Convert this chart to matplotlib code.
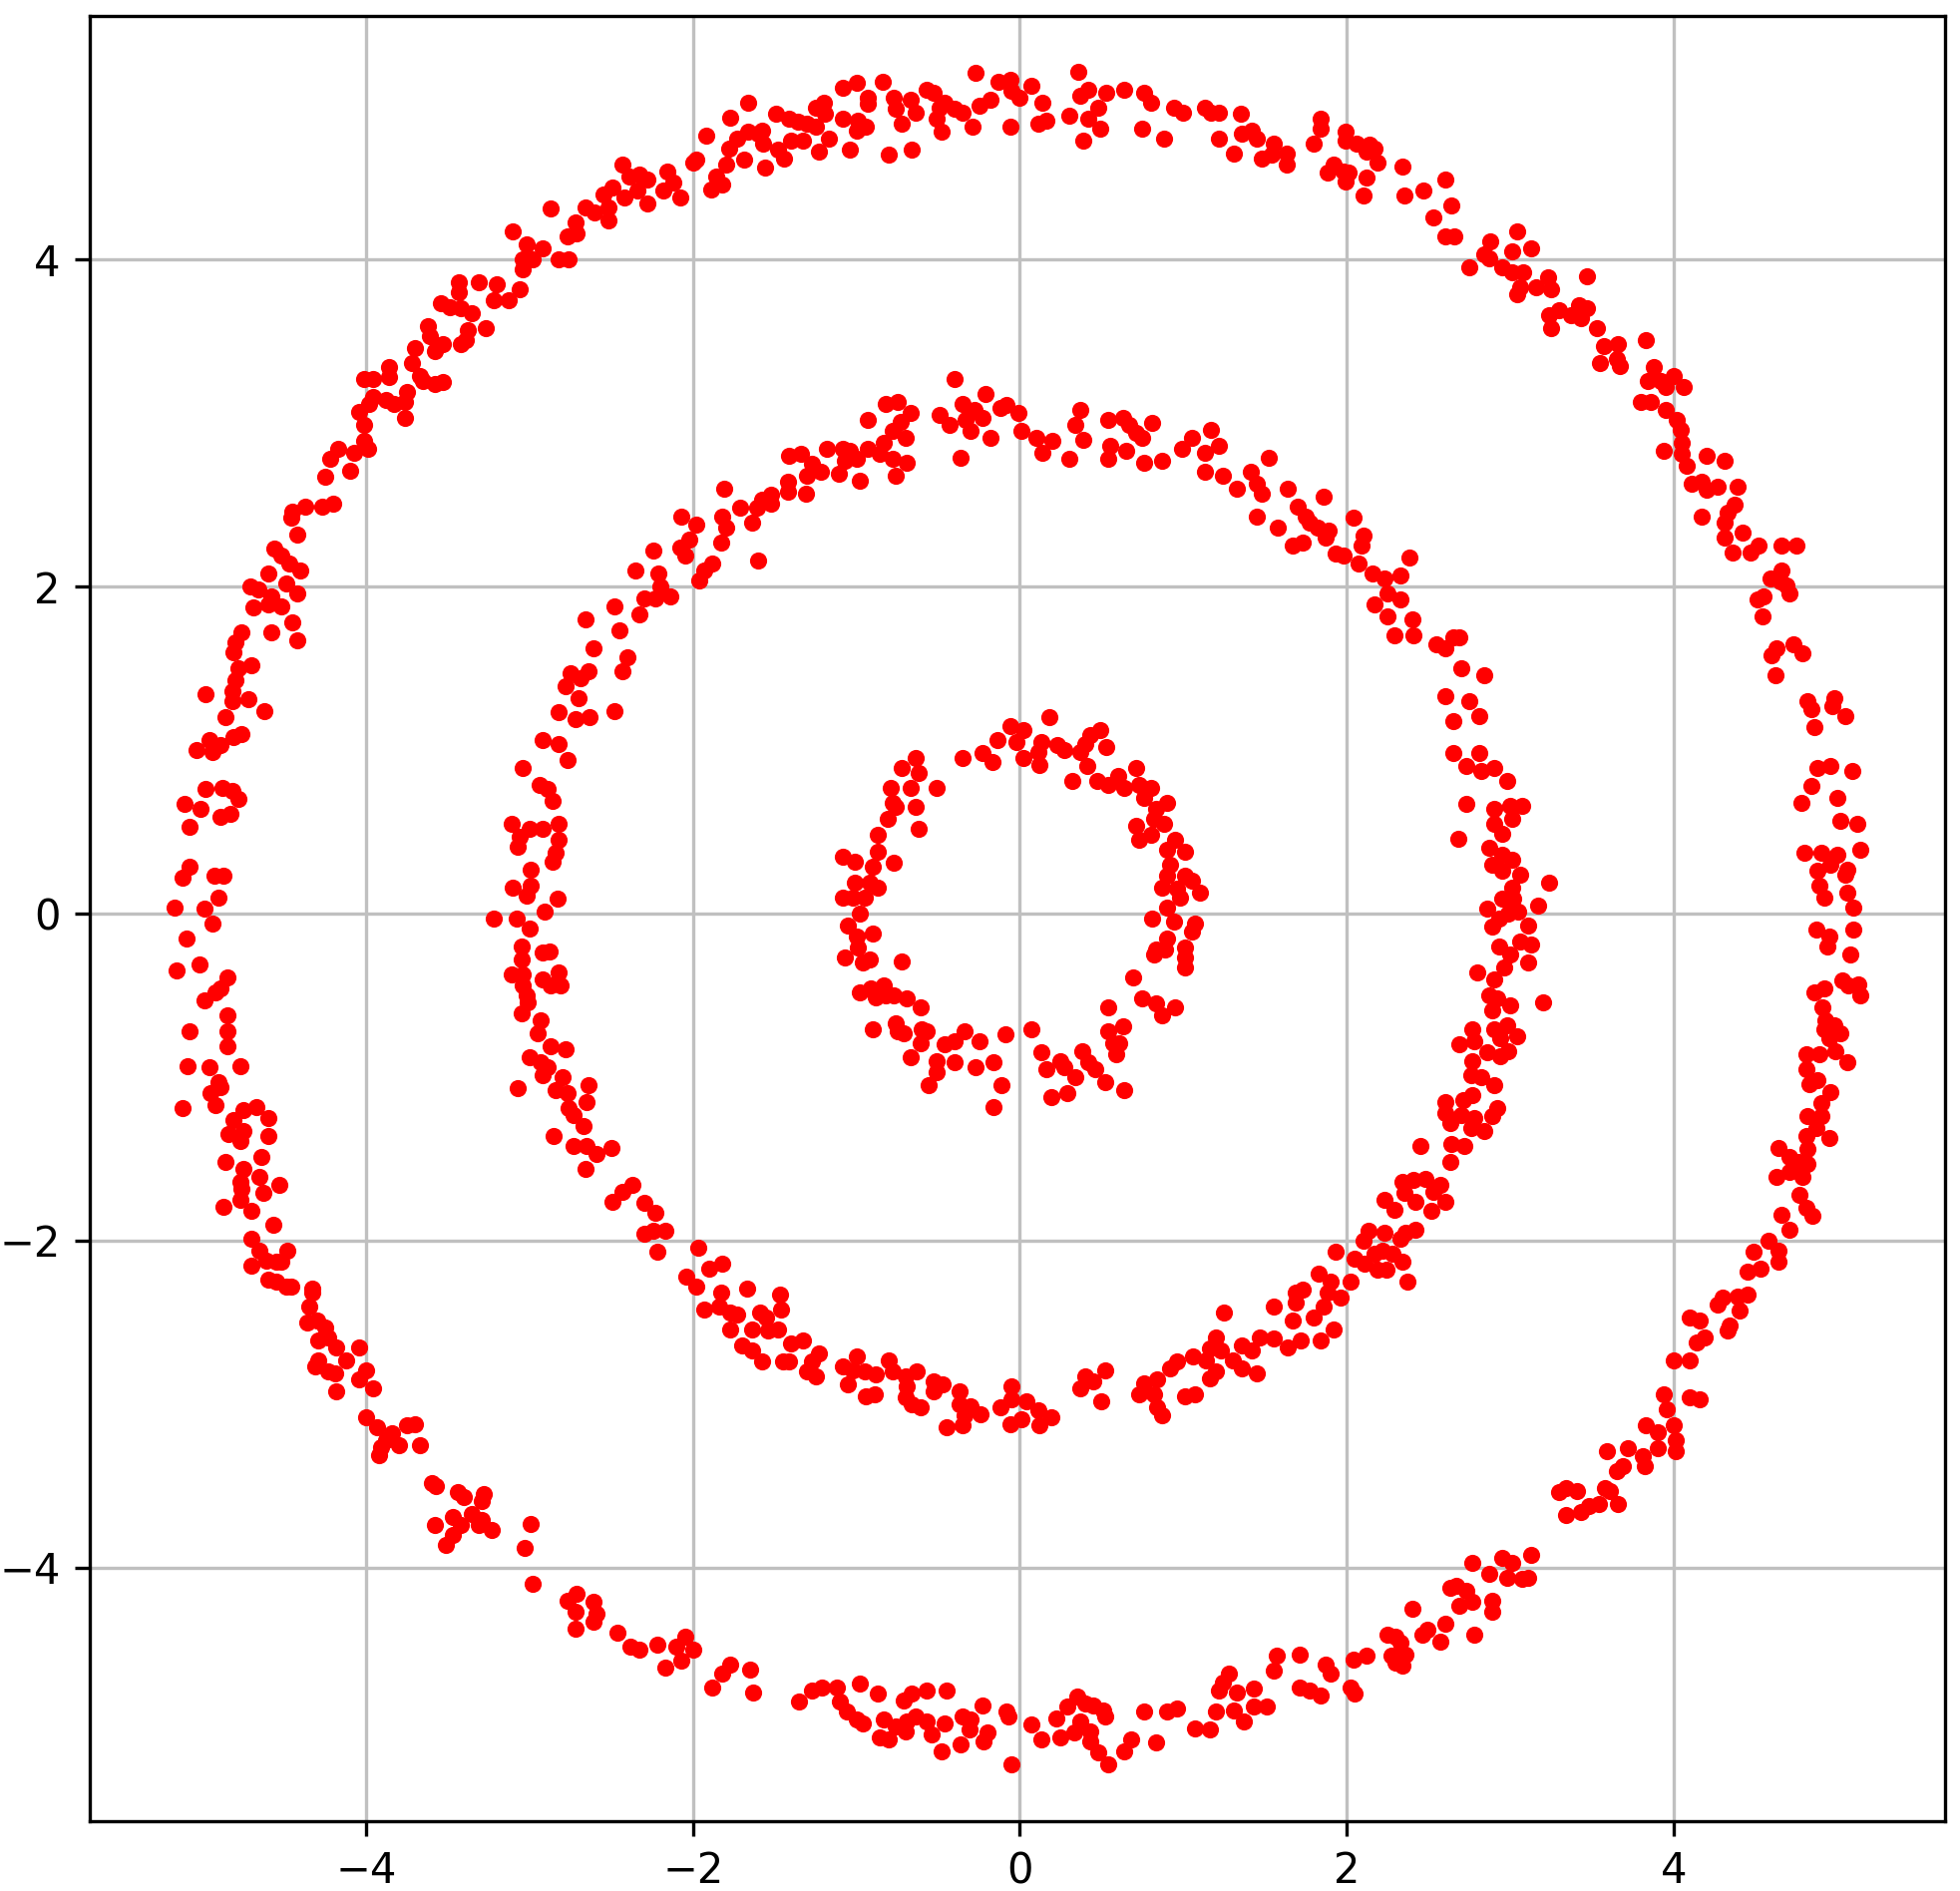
import numpy as np
import matplotlib.pyplot as plt

# three noisy rings, point positions
outer = [
    # upper left
    (-1.77, 4.87), (-1.92, 4.76), (-1.78, 4.68), (-1.80, 4.58), (-1.86, 4.51), (-1.89, 4.43), (-1.82, 4.46),
    (-2.00, 4.59), (-1.98, 4.61), (-2.16, 4.54), (-2.12, 4.47), (-2.18, 4.42), (-2.08, 4.38), (-2.43, 4.58),
    (-2.39, 4.51), (-2.33, 4.52), (-2.28, 4.49), (-2.34, 4.42), (-2.42, 4.38), (-2.28, 4.34), (-2.49, 4.44),
    (-2.55, 4.40), (-2.52, 4.32), (-2.52, 4.24), (-2.66, 4.32), (-2.60, 4.29), (-2.87, 4.31), (-2.72, 4.23),
    (-2.71, 4.16), (-2.77, 4.14), (-3.10, 4.17), (-3.02, 4.09), (-2.92, 4.07), (-2.98, 4.00), (-3.04, 4.00),
    (-3.04, 3.94), (-2.82, 4.00), (-2.76, 4.00), (-3.06, 3.82), (-3.20, 3.85), (-3.31, 3.86), (-3.43, 3.86),
    (-3.43, 3.80), (-3.22, 3.75), (-3.13, 3.75), (-3.54, 3.73), (-3.49, 3.71), (-3.42, 3.70), (-3.35, 3.67),
    (-3.38, 3.57), (-3.27, 3.58), (-3.62, 3.59), (-3.61, 3.53), (-3.53, 3.48), (-3.42, 3.48), (-3.39, 3.51),
    (-3.58, 3.44), (-3.70, 3.46), (-3.72, 3.37), (-3.67, 3.29), (-3.65, 3.26), (-3.58, 3.24), (-3.53, 3.25),
    (-3.86, 3.34), (-3.86, 3.28), (-4.01, 3.27), (-3.96, 3.27), (-3.96, 3.16), (-3.98, 3.12), (-3.88, 3.14),
    (-3.83, 3.12), (-3.75, 3.19), (-3.76, 3.13), (-4.04, 3.07), (-3.76, 3.03), (-4.01, 2.99), (-4.01, 2.89),
    (-3.99, 2.84), (-4.07, 2.82), (-4.17, 2.84), (-4.22, 2.78), (-4.10, 2.71), (-4.25, 2.67), (-4.45, 2.46),
    (-4.46, 2.42), (-4.37, 2.49), (-4.27, 2.49), (-4.20, 2.51), (-4.42, 2.32), (-4.56, 2.23), (-4.52, 2.19),
    (-4.47, 2.14), (-4.40, 2.10), (-4.60, 2.08), (-4.49, 2.02), (-4.71, 2.00), (-4.66, 1.98), (-4.58, 1.94),
    (-4.42, 1.96), (-4.69, 1.87), (-4.60, 1.89), (-4.52, 1.88), (-4.45, 1.78),
    # top
    (-1.73, 4.74), (-1.69, 4.61), (-1.66, 4.96), (-1.66, 4.78), (-1.60, 4.77), (-1.58, 4.79), (-1.57, 4.71),
    (-1.56, 4.56), (-1.49, 4.89), (-1.48, 4.67), (-1.44, 4.62), (-1.41, 4.86), (-1.40, 4.73), (-1.36, 4.84),
    (-1.33, 4.73), (-1.30, 4.83), (-1.25, 4.93), (-1.25, 4.81), (-1.23, 4.66), (-1.20, 4.96), (-1.19, 4.89),
    (-1.17, 4.74), (-1.08, 5.05), (-1.08, 4.86), (-1.04, 4.67), (-1.00, 5.08), (-0.99, 4.85), (-1.00, 4.79),
    (-0.94, 4.81), (-0.93, 4.99), (-0.93, 4.95), (-0.84, 5.09), (-0.80, 4.64), (-0.77, 4.99), (-0.76, 4.92),
    (-0.72, 4.83), (-0.67, 4.98), (-0.66, 4.67), (-0.64, 4.90), (-0.57, 5.04), (-0.53, 5.02), (-0.51, 4.86),
    (-0.49, 4.93), (-0.48, 4.78), (-0.46, 4.96), (-0.40, 4.92), (-0.35, 4.90), (-0.29, 4.81), (-0.27, 5.14),
    (-0.25, 4.94), (-0.18, 4.98), (-0.13, 5.09), (-0.06, 5.10), (-0.06, 4.81), (-0.05, 5.03), (0.00, 4.99),
    (0.07, 5.06), (0.14, 4.96), (0.11, 4.83), (0.16, 4.85), (0.30, 4.88), (0.36, 5.15), (0.37, 5.00),
    (0.42, 5.04), (0.39, 4.73), (0.42, 4.86), (0.48, 4.93), (0.49, 4.80), (0.53, 5.02), (0.64, 5.04),
    (0.75, 4.80), (0.76, 5.02), (0.80, 4.96), (0.88, 4.74), (0.94, 4.93), (1.00, 4.90), (1.13, 4.93),
    (1.17, 4.90), (1.22, 4.90), (1.22, 4.74), (1.31, 4.65), (1.35, 4.89), (1.36, 4.77), (1.42, 4.79),
    (1.45, 4.74), (1.48, 4.62), (1.55, 4.71), (1.54, 4.64), (1.63, 4.65), (1.63, 4.58), (1.80, 4.71),
    (1.84, 4.86), (1.84, 4.80), (1.88, 4.53), (1.92, 4.58),
    # upper right
    (1.99, 4.78), (1.99, 4.73), (2.06, 4.71), (2.12, 4.66), (2.14, 4.70), (2.17, 4.68), (2.19, 4.59),
    (1.98, 4.54), (1.99, 4.48), (2.01, 4.53), (2.12, 4.50), (2.10, 4.39), (2.34, 4.57), (2.35, 4.39),
    (2.47, 4.42), (2.60, 4.49), (2.64, 4.33), (2.53, 4.26), (2.60, 4.14), (2.66, 4.14), (2.88, 4.11),
    (2.84, 4.03), (2.87, 4.01), (2.95, 3.95), (3.01, 4.05), (3.04, 4.17), (3.13, 4.07), (2.75, 3.95),
    (3.01, 3.92), (3.08, 3.92), (3.06, 3.83), (3.04, 3.79), (3.16, 3.83), (3.23, 3.89), (3.25, 3.82),
    (3.47, 3.90), (3.24, 3.66), (3.30, 3.69), (3.25, 3.58), (3.37, 3.66), (3.42, 3.72), (3.47, 3.70),
    (3.43, 3.64), (3.53, 3.58), (3.57, 3.47), (3.66, 3.48), (3.55, 3.37), (3.65, 3.39), (3.67, 3.35),
    (3.83, 3.51), (3.88, 3.34), (3.84, 3.26), (3.92, 3.26), (3.95, 3.22), (4.00, 3.29), (4.06, 3.22),
    (3.80, 3.13), (3.86, 3.13), (3.95, 3.08), (4.02, 3.02), (4.04, 2.96), (4.05, 2.88), (3.94, 2.83),
    (4.05, 2.81), (4.08, 2.74), (4.20, 2.80), (4.31, 2.77), (4.11, 2.63), (4.17, 2.64), (4.20, 2.59),
    (4.27, 2.61), (4.39, 2.61), (4.37, 2.50), (4.33, 2.45), (4.31, 2.39), (4.17, 2.43), (4.31, 2.30),
    (4.42, 2.33), (4.36, 2.21), (4.47, 2.21), (4.52, 2.25), (4.66, 2.25), (4.75, 2.25), (4.59, 2.05),
    (4.66, 2.10), (4.65, 2.03), (4.69, 2.01), (4.71, 1.96), (4.51, 1.92), (4.55, 1.94), (4.54, 1.82),
    # left side
    (-4.76, 1.72), (-4.58, 1.72), (-4.42, 1.67), (-4.80, 1.66), (-4.81, 1.60), (-4.70, 1.52), (-4.78, 1.50),
    (-4.80, 1.43), (-4.82, 1.36), (-4.72, 1.31), (-4.82, 1.30), (-4.98, 1.34), (-4.62, 1.24), (-4.86, 1.20),
    (-4.76, 1.10), (-4.81, 1.08), (-4.96, 1.06), (-4.89, 1.03), (-4.94, 0.99), (-5.04, 1.00), (-4.98, 0.76),
    (-4.88, 0.77), (-4.82, 0.75), (-4.78, 0.70), (-5.11, 0.67), (-5.01, 0.64), (-4.89, 0.59), (-4.83, 0.61),
    (-5.08, 0.53), (-5.08, 0.29), (-5.12, 0.22), (-4.93, 0.23), (-4.87, 0.23), (-4.90, 0.10), (-5.17, 0.04),
    (-4.99, 0.03), (-4.94, -0.06), (-5.10, -0.15), (-5.16, -0.35), (-5.02, -0.31), (-4.85, -0.39),
    (-4.89, -0.46), (-4.92, -0.48), (-4.99, -0.53), (-4.85, -0.62), (-5.08, -0.72), (-4.85, -0.72),
    (-4.85, -0.81), (-5.09, -0.93), (-4.96, -0.94), (-4.77, -0.93), (-4.90, -1.03), (-4.89, -1.06),
    (-4.95, -1.10), (-4.92, -1.17), (-5.12, -1.19), (-4.75, -1.20), (-4.67, -1.18), (-4.60, -1.25),
    (-4.81, -1.26), (-4.84, -1.35), (-4.75, -1.33), (-4.77, -1.39), (-4.60, -1.36), (-4.86, -1.52),
    (-4.75, -1.56), (-4.64, -1.49), (-4.65, -1.61), (-4.77, -1.64), (-4.76, -1.68), (-4.63, -1.71),
    (-4.53, -1.66), (-4.77, -1.75), (-4.87, -1.79), (-4.70, -1.82),
    # right side
    (4.63, 1.62), (4.60, 1.58), (4.73, 1.65), (4.79, 1.59), (4.62, 1.46), (4.82, 1.30), (4.84, 1.25),
    (4.86, 1.14), (4.98, 1.32), (4.97, 1.27), (5.05, 1.21), (4.88, 0.89), (4.96, 0.90), (5.09, 0.87),
    (4.84, 0.78), (4.78, 0.68), (5.00, 0.71), (5.02, 0.57), (5.12, 0.55), (4.80, 0.37), (4.90, 0.37),
    (5.00, 0.36), (4.96, 0.30), (5.14, 0.39), (4.88, 0.26), (5.06, 0.27), (5.05, 0.24), (4.89, 0.17),
    (4.92, 0.10), (5.06, 0.13), (5.10, 0.04), (4.87, -0.10), (4.95, -0.14), (4.94, -0.20), (5.10, -0.10),
    (5.08, -0.25), (5.03, -0.41), (5.13, -0.43), (5.14, -0.50), (5.07, -0.44), (4.86, -0.48), (4.92, -0.46),
    (4.91, -0.57), (4.93, -0.65), (4.98, -0.68), (4.92, -0.71), (5.02, -0.73), (4.95, -0.76), (4.99, -0.84),
    (5.06, -0.91), (4.81, -0.86), (4.89, -0.86), (4.81, -0.95), (4.83, -1.04), (4.88, -1.02), (4.96, -1.09),
    (4.90, -1.16), (4.82, -1.24), (4.90, -1.24), (4.87, -1.31), (4.81, -1.36), (4.95, -1.37), (4.64, -1.43),
    (4.82, -1.44), (4.71, -1.49), (4.76, -1.52), (4.82, -1.53), (4.63, -1.61), (4.71, -1.58), (4.79, -1.61),
    (4.77, -1.72), (4.81, -1.80), (4.66, -1.84), (4.85, -1.85),
    # lower left
    (-4.57, -1.90), (-4.70, -1.99), (-4.65, -2.06), (-4.48, -2.06), (-4.70, -2.15), (-4.61, -2.12),
    (-4.55, -2.13), (-4.52, -2.13), (-4.60, -2.24), (-4.55, -2.25), (-4.49, -2.28), (-4.46, -2.28),
    (-4.33, -2.29), (-4.33, -2.32), (-4.35, -2.40), (-4.36, -2.50), (-4.30, -2.49), (-4.25, -2.53),
    (-4.29, -2.61), (-4.23, -2.59), (-4.18, -2.65), (-4.31, -2.77), (-4.29, -2.73), (-4.23, -2.80),
    (-4.19, -2.81), (-4.12, -2.73), (-4.04, -2.65), (-4.18, -2.92), (-4.04, -2.85), (-4.00, -2.79),
    (-3.96, -2.90), (-4.00, -3.08), (-3.93, -3.14), (-3.84, -3.18), (-3.75, -3.13), (-3.70, -3.12),
    (-3.88, -3.22), (-3.91, -3.26), (-3.92, -3.31), (-3.80, -3.25), (-3.67, -3.25), (-3.60, -3.48),
    (-3.57, -3.50), (-3.44, -3.54), (-3.40, -3.57), (-3.28, -3.55), (-3.29, -3.59), (-3.47, -3.69),
    (-3.35, -3.67), (-3.29, -3.71), (-3.31, -3.74), (-3.23, -3.77), (-3.42, -3.74), (-3.58, -3.74),
    (-3.47, -3.80), (-3.51, -3.86), (-2.99, -3.73), (-3.03, -3.88), (-2.98, -4.10), (-2.77, -4.20),
    (-2.71, -4.16), (-2.72, -4.27), (-2.61, -4.21), (-2.59, -4.28), (-2.61, -4.33), (-2.72, -4.37),
    (-2.46, -4.40), (-2.38, -4.48), (-2.33, -4.50), (-2.22, -4.47), (-2.17, -4.61), (-2.05, -4.42),
    (-2.10, -4.48), (-2.07, -4.57), (-2.00, -4.50), (-1.82, -4.65), (-1.88, -4.73), (-1.77, -4.59),
    # bottom
    (-1.65, -4.62), (-1.63, -4.76), (-1.35, -4.82), (-1.27, -4.75), (-1.21, -4.73), (-1.12, -4.73),
    (-1.10, -4.82), (-1.06, -4.88), (-1.00, -4.93), (-0.96, -4.95), (-0.98, -4.71), (-0.87, -4.77),
    (-0.83, -4.93), (-0.86, -5.04), (-0.80, -5.05), (-0.76, -4.97), (-0.70, -5.00), (-0.71, -4.81),
    (-0.66, -4.77), (-0.57, -4.75), (-0.69, -4.94), (-0.64, -4.91), (-0.57, -4.94), (-0.54, -5.02),
    (-0.45, -4.75), (-0.46, -4.95), (-0.48, -5.12), (-0.36, -5.08), (-0.35, -4.91), (-0.30, -4.93),
    (-0.31, -4.99), (-0.23, -4.84), (-0.20, -5.01), (-0.22, -5.06), (-0.08, -4.88), (-0.07, -4.91),
    (-0.05, -5.20), (0.07, -4.96), (0.13, -5.05), (0.22, -4.92), (0.25, -5.04), (0.29, -4.85),
    (0.35, -4.79), (0.33, -5.01), (0.37, -4.94), (0.40, -4.83), (0.45, -4.84), (0.43, -5.00),
    (0.43, -5.06), (0.51, -4.87), (0.52, -4.91), (0.48, -5.13), (0.54, -5.20), (0.64, -5.12),
    (0.68, -5.05), (0.76, -4.88), (0.83, -5.07), (0.90, -4.88), (0.96, -4.86), (1.07, -4.98),
    (1.16, -4.99), (1.20, -4.88), (1.22, -4.75), (1.24, -4.70), (1.28, -4.65), (1.31, -4.87),
    (1.33, -4.76), (1.37, -4.94), (1.43, -4.74), (1.43, -4.85), (1.51, -4.85), (1.55, -4.63),
    (1.57, -4.54), (1.71, -4.53), (1.71, -4.73), (1.77, -4.75), (1.84, -4.78), (1.87, -4.59), (1.90, -4.65),
    # lower right
    (4.71, -1.93), (4.58, -2.00), (4.49, -2.07), (4.64, -2.06), (4.64, -2.13), (4.45, -2.19), (4.53, -2.17),
    (4.27, -2.39), (4.30, -2.35), (4.39, -2.34), (4.45, -2.33), (4.40, -2.43), (4.34, -2.52), (4.33, -2.55),
    (4.10, -2.47), (4.16, -2.49), (4.19, -2.59), (4.14, -2.62), (4.00, -2.73), (4.10, -2.73), (3.94, -2.94),
    (3.96, -3.03), (4.10, -2.96), (4.16, -2.97), (3.83, -3.13), (3.90, -3.17), (4.00, -3.13), (4.01, -3.22),
    (3.90, -3.27), (4.01, -3.29), (3.72, -3.27), (3.81, -3.32), (3.82, -3.38), (3.59, -3.29), (3.69, -3.38),
    (3.65, -3.41), (3.30, -3.54), (3.34, -3.51), (3.41, -3.53), (3.34, -3.68), (3.43, -3.66), (3.48, -3.62),
    (3.54, -3.61), (3.58, -3.51), (3.61, -3.53), (3.66, -3.61), (2.77, -3.97), (2.87, -4.04), (2.95, -3.94),
    (3.01, -3.97), (2.98, -4.06), (3.07, -4.07), (3.11, -4.06), (3.13, -3.92), (2.63, -4.12), (2.67, -4.11),
    (2.73, -4.14), (2.77, -4.21), (2.69, -4.23), (2.89, -4.20), (2.89, -4.27), (2.40, -4.25), (2.60, -4.34),
    (2.49, -4.38), (2.46, -4.41), (2.57, -4.45), (2.78, -4.41), (2.25, -4.41), (2.30, -4.42), (2.33, -4.46),
    (2.36, -4.53), (2.27, -4.54), (2.30, -4.58), (2.34, -4.60), (2.04, -4.56), (2.12, -4.54), (2.02, -4.73),
    (2.05, -4.77),
]

middle = [
    # upper left
    (-1.81, 2.60), (-2.07, 2.43), (-1.98, 2.38), (-1.82, 2.43), (-1.80, 2.36), (-2.02, 2.29), (-2.08, 2.24),
    (-2.05, 2.19), (-1.83, 2.27), (-2.24, 2.22), (-1.88, 2.14), (-1.93, 2.10), (-1.96, 2.04), (-2.35, 2.10),
    (-2.21, 2.08), (-2.20, 2.00), (-2.30, 1.93), (-2.23, 1.93), (-2.14, 1.94), (-2.48, 1.88), (-2.33, 1.83),
    (-2.66, 1.80),
    # top
    (-1.71, 2.48), (-1.64, 2.39), (-1.60, 2.16), (-1.61, 2.48), (-1.58, 2.53), (-1.52, 2.56), (-1.52, 2.51),
    (-1.42, 2.64), (-1.42, 2.58), (-1.41, 2.80), (-1.34, 2.81), (-1.31, 2.57), (-1.30, 2.68), (-1.27, 2.75),
    (-1.22, 2.70), (-1.18, 2.84), (-1.11, 2.69), (-1.08, 2.84), (-1.07, 2.77), (-1.04, 2.83), (-1.00, 2.78),
    (-0.98, 2.65), (-0.93, 2.84), (-0.93, 3.02), (-0.86, 2.81), (-0.83, 2.88), (-0.82, 3.12), (-0.78, 2.95),
    (-0.78, 2.78), (-0.76, 2.68), (-0.75, 3.13), (-0.73, 3.01), (-0.70, 2.91), (-0.69, 2.76), (-0.67, 3.06),
    (-0.49, 3.05), (-0.43, 2.99), (-0.40, 3.27), (-0.36, 2.79), (-0.35, 3.12), (-0.33, 3.02), (-0.30, 2.95),
    (-0.28, 3.08), (-0.23, 3.03), (-0.21, 3.18), (-0.18, 2.91), (-0.12, 3.09), (-0.08, 3.11), (-0.01, 3.06),
    (0.01, 2.95), (0.10, 2.91), (0.14, 2.82), (0.20, 2.89), (0.30, 2.78), (0.34, 2.99), (0.37, 3.08),
    (0.39, 2.90), (0.54, 3.02), (0.55, 2.86), (0.54, 2.78), (0.63, 3.03), (0.65, 2.83), (0.67, 2.99),
    (0.71, 2.94), (0.75, 2.91), (0.76, 2.76), (0.81, 3.00), (0.87, 2.77), (0.99, 2.84), (1.05, 2.91),
    (1.13, 2.82), (1.13, 2.70), (1.17, 2.96), (1.22, 2.86), (1.24, 2.68), (1.33, 2.60), (1.41, 2.70),
    (1.45, 2.63), (1.48, 2.57), (1.45, 2.43), (1.52, 2.79), (1.58, 2.36), (1.64, 2.60), (1.67, 2.25),
    (1.70, 2.49), (1.73, 2.27), (1.75, 2.43), (1.77, 2.39), (1.86, 2.55), (1.82, 2.36), (1.87, 2.30),
    (1.89, 2.34), (1.93, 2.20),
    # upper right
    (2.04, 2.42), (2.10, 2.31), (2.09, 2.25), (1.98, 2.19), (2.07, 2.14), (2.16, 2.08), (2.23, 2.05),
    (2.25, 1.96), (2.33, 2.07), (2.38, 2.18), (2.17, 1.89), (2.33, 1.92), (2.25, 1.82), (2.40, 1.80),
    # left
    (-2.45, 1.73), (-2.61, 1.62), (-2.40, 1.57), (-2.75, 1.47), (-2.69, 1.44), (-2.64, 1.48), (-2.43, 1.48),
    (-2.78, 1.39), (-2.70, 1.32), (-2.82, 1.23), (-2.72, 1.19), (-2.63, 1.20), (-2.48, 1.24), (-2.92, 1.06),
    (-2.82, 1.04), (-2.77, 0.94), (-3.04, 0.89), (-2.94, 0.79), (-2.89, 0.76), (-2.86, 0.69), (-3.11, 0.55),
    (-3.00, 0.52), (-2.92, 0.52), (-2.82, 0.55), (-3.06, 0.47), (-3.07, 0.41), (-2.82, 0.45), (-2.84, 0.37),
    (-2.86, 0.32), (-2.99, 0.27), (-3.10, 0.16), (-2.99, 0.17), (-3.02, 0.11), (-2.83, 0.09), (-2.91, 0.01),
    (-3.22, -0.03), (-3.08, -0.03), (-3.00, -0.09), (-3.05, -0.20), (-3.05, -0.28), (-2.92, -0.24),
    (-2.88, -0.23), (-3.11, -0.37), (-3.04, -0.37), (-3.04, -0.44), (-3.02, -0.50), (-3.01, -0.54),
    (-3.05, -0.61), (-2.92, -0.40), (-2.82, -0.36), (-2.87, -0.44), (-2.81, -0.44), (-2.93, -0.65),
    (-2.95, -0.73), (-3.00, -0.88), (-2.87, -0.81), (-2.78, -0.83), (-2.93, -0.91), (-2.89, -0.94),
    (-2.92, -0.99), (-2.80, -1.00), (-2.84, -1.08), (-2.77, -1.10), (-3.07, -1.07), (-2.64, -1.05),
    (-2.65, -1.15), (-2.76, -1.19), (-2.73, -1.23), (-2.67, -1.30), (-2.85, -1.36), (-2.73, -1.42),
    (-2.65, -1.42), (-2.59, -1.47), (-2.50, -1.43), (-2.66, -1.56), (-2.37, -1.66), (-2.43, -1.70),
    (-2.49, -1.76), (-2.30, -1.77), (-2.23, -1.83),
    # right
    (2.29, 1.70), (2.41, 1.70), (2.55, 1.65), (2.60, 1.62), (2.65, 1.69), (2.69, 1.69), (2.70, 1.50),
    (2.84, 1.46), (2.60, 1.33), (2.75, 1.30), (2.81, 1.21), (2.65, 1.18), (2.65, 0.98), (2.81, 0.98),
    (2.73, 0.90), (2.82, 0.87), (2.90, 0.89), (2.98, 0.81), (2.73, 0.67), (2.90, 0.64), (3.00, 0.66),
    (3.07, 0.66), (3.01, 0.58), (2.90, 0.55), (2.95, 0.49), (2.68, 0.46), (2.87, 0.40), (2.95, 0.36),
    (3.01, 0.33), (2.89, 0.30), (2.95, 0.26), (3.06, 0.24), (3.24, 0.19), (3.01, 0.16), (2.95, 0.09),
    (3.02, 0.09), (3.17, 0.05), (2.86, 0.03), (2.99, 0.00), (3.05, 0.01), (2.93, -0.03), (2.89, -0.08),
    (3.11, -0.07), (2.93, -0.20), (3.06, -0.17), (3.13, -0.19), (3.00, -0.25), (2.96, -0.33), (3.11, -0.30),
    (2.80, -0.36), (2.90, -0.40), (2.87, -0.50), (2.92, -0.52), (3.00, -0.56), (2.89, -0.59), (3.20, -0.54),
    (2.77, -0.71), (2.90, -0.71), (2.98, -0.68), (3.04, -0.75), (2.94, -0.76), (2.69, -0.80), (2.78, -0.78),
    (2.86, -0.85), (2.94, -0.87), (2.99, -0.84), (2.77, -0.90), (2.76, -0.99), (2.82, -1.00), (2.90, -1.05),
    (2.60, -1.15), (2.71, -1.14), (2.77, -1.11), (2.92, -1.19), (2.60, -1.22), (2.63, -1.28), (2.70, -1.23),
    (2.78, -1.25), (2.76, -1.31), (2.84, -1.33), (2.89, -1.24), (2.45, -1.42), (2.64, -1.41), (2.72, -1.42),
    (2.63, -1.52), (2.34, -1.64), (2.41, -1.63), (2.48, -1.62), (2.57, -1.66), (2.35, -1.71), (2.53, -1.70),
    (2.23, -1.75), (2.29, -1.81), (2.42, -1.76), (2.52, -1.82), (2.60, -1.76),
    # lower left
    (-2.30, -1.96), (-2.24, -1.94), (-2.17, -1.94), (-2.22, -2.07), (-1.97, -2.04), (-1.90, -2.17),
    (-1.82, -2.14), (-2.04, -2.22), (-1.98, -2.28), (-1.83, -2.32), (-1.84, -2.40), (-1.93, -2.42),
    (-1.77, -2.44), (-1.77, -2.54),
    # bottom
    (-1.73, -2.45), (-1.67, -2.29), (-1.70, -2.64), (-1.64, -2.67), (-1.58, -2.74), (-1.59, -2.44),
    (-1.55, -2.47), (-1.64, -2.54), (-1.54, -2.55), (-1.48, -2.54), (-1.47, -2.33), (-1.46, -2.42),
    (-1.40, -2.63), (-1.33, -2.61), (-1.45, -2.74), (-1.41, -2.74), (-1.23, -2.69), (-1.27, -2.74),
    (-1.30, -2.80), (-1.25, -2.83), (-1.08, -2.77), (-1.00, -2.71), (-1.02, -2.79), (-1.05, -2.88),
    (-0.95, -2.80), (-0.88, -2.82), (-0.94, -2.95), (-0.89, -2.94), (-0.80, -2.73), (-0.78, -2.80),
    (-0.70, -2.83), (-0.69, -2.89), (-0.63, -2.80), (-0.70, -2.96), (-0.66, -3.00), (-0.61, -3.02),
    (-0.53, -2.86), (-0.47, -2.88), (-0.53, -2.92), (-0.37, -2.92), (-0.37, -3.00), (-0.30, -3.01),
    (-0.45, -3.14), (-0.35, -3.13), (-0.34, -3.07), (-0.24, -3.06), (-0.12, -3.02), (-0.05, -2.89),
    (-0.05, -2.97), (0.04, -2.98), (-0.06, -3.12), (0.01, -3.09), (0.11, -3.04), (0.12, -3.13),
    (0.19, -3.08), (0.37, -2.90), (0.40, -2.83), (0.45, -2.86), (0.52, -2.79), (0.50, -2.98),
    (0.73, -2.94), (0.76, -2.87), (0.84, -2.85), (0.82, -2.94), (0.84, -3.02), (0.87, -3.07),
    (0.92, -2.78), (0.96, -2.74), (1.01, -2.95), (1.07, -2.94), (1.06, -2.71), (1.14, -2.73),
    (1.16, -2.84), (1.20, -2.80), (1.20, -2.59), (1.16, -2.66), (1.23, -2.67), (1.25, -2.44),
    (1.30, -2.73), (1.36, -2.64), (1.42, -2.67), (1.45, -2.81), (1.36, -2.78), (1.47, -2.59),
    (1.55, -2.40), (1.55, -2.60), (1.64, -2.65), (1.67, -2.49), (1.69, -2.38), (1.69, -2.32),
    (1.73, -2.30), (1.72, -2.61), (1.80, -2.47), (1.83, -2.20), (1.86, -2.40), (1.84, -2.61),
    (1.88, -2.32), (1.90, -2.25), (1.92, -2.54), (1.93, -2.07),
    # lower right
    (2.23, -1.95), (2.13, -1.94), (2.10, -2.00), (2.36, -1.95), (2.42, -1.93), (2.33, -1.99), (2.05, -2.11),
    (2.11, -2.14), (2.17, -2.08), (2.22, -2.06), (2.28, -2.08), (2.34, -2.13), (2.19, -2.18), (2.24, -2.18),
    (2.02, -2.25), (2.37, -2.25), (1.96, -2.35),
]

inner = [
    (0.18, 1.20), (-0.06, 1.15), (0.02, 1.12), (-0.14, 1.06), (-0.02, 1.05), (0.02, 0.95), (0.13, 1.05),
    (0.11, 0.99), (0.12, 0.91), (-0.35, 0.95), (-0.23, 0.98), (-0.17, 0.93), (0.23, 1.03), (0.27, 1.00),
    (0.32, 0.81), (0.37, 0.99), (0.40, 1.04), (0.43, 1.09), (0.49, 1.12), (0.53, 1.02), (0.41, 0.90),
    (0.47, 0.81), (0.54, 0.79), (0.60, 0.84), (0.64, 0.77), (0.71, 0.89), (0.73, 0.79), (0.80, 0.77),
    (0.76, 0.71), (0.90, 0.68), (0.83, 0.64), (0.82, 0.58), (0.88, 0.55), (0.71, 0.54), (0.73, 0.45),
    (0.80, 0.48), (0.95, 0.45), (0.90, 0.39), (1.01, 0.38), (0.92, 0.30), (0.90, 0.23), (1.01, 0.23),
    (1.05, 0.20), (0.87, 0.16), (0.96, 0.15), (0.98, 0.10), (1.10, 0.13), (0.90, 0.04), (0.81, -0.03),
    (0.94, -0.05), (1.07, -0.06), (1.05, -0.11), (0.90, -0.15), (0.83, -0.22), (0.82, -0.25), (0.89, -0.22),
    (1.01, -0.21), (1.01, -0.27), (1.01, -0.33), (0.69, -0.39), (0.75, -0.52), (0.83, -0.55), (0.87, -0.62),
    (0.95, -0.57), (0.54, -0.57), (0.63, -0.69), (0.54, -0.72), (0.57, -0.79), (0.61, -0.79), (0.59, -0.86),
    (0.64, -1.08), (0.38, -0.84), (0.42, -0.91), (0.46, -0.95), (0.52, -1.03), (0.34, -1.00), (0.25, -0.90),
    (0.27, -0.94), (0.16, -0.95), (0.13, -0.85), (0.19, -1.12), (0.29, -1.10), (0.07, -0.71), (-0.09, -0.74),
    (-0.11, -1.05), (-0.16, -1.18), (-0.16, -0.91), (-0.27, -0.94), (-0.25, -0.78), (-0.34, -0.72),
    (-0.40, -0.78), (-0.40, -0.91), (-0.46, -0.80), (-0.51, -0.90), (-0.51, -0.97), (-0.56, -1.05),
    (-0.60, -0.71), (-0.61, -0.79), (-0.57, -0.72), (-0.67, -0.88), (-0.71, -0.73), (-0.76, -0.67),
    (-0.75, -0.72), (-0.90, -0.71), (-0.69, -0.52), (-0.61, -0.57), (-0.77, -0.50), (-0.82, -0.50),
    (-0.88, -0.51), (-0.91, -0.46), (-0.83, -0.44), (-0.98, -0.48), (-1.07, -0.27), (-0.96, -0.30),
    (-0.92, -0.28), (-0.72, -0.29), (-0.99, -0.21), (-1.00, -0.14), (-0.90, -0.12), (-1.05, -0.07),
    (-0.98, 0.00), (-1.08, 0.10), (-1.02, 0.10), (-0.95, 0.10), (-1.01, 0.19), (-0.92, 0.19), (-0.87, 0.16),
    (-1.08, 0.35), (-1.01, 0.32), (-0.90, 0.29), (-0.77, 0.31), (-0.87, 0.38), (-0.87, 0.48), (-0.81, 0.58),
    (-0.76, 0.65), (-0.78, 0.68), (-0.79, 0.77), (-0.67, 0.77), (-0.64, 0.65), (-0.62, 0.52), (-0.51, 0.77),
    (-0.72, 0.89), (-0.64, 0.95), (-0.62, 0.86),
]

ticks = [-4, -2, 0, 2, 4]


def main():
    pts = np.array(outer + middle + inner)

    fig = plt.figure(figsize=(6.55, 6.32), dpi=300)
    ax = fig.add_axes([0.0458, 0.0369, 0.9466, 0.9547])

    ax.scatter(pts[:, 0], pts[:, 1], s=17, c='#ff0000', linewidths=0, zorder=3)

    ax.set_xlim(-5.69, 5.66)
    ax.set_ylim(-5.55, 5.49)
    ax.set_xticks(ticks)
    ax.set_yticks(ticks)
    ax.set_axisbelow(True)
    ax.grid(True, color='#c0c0c0', linewidth=0.8)

    fig.savefig('out.png', dpi=300)


if __name__ == "__main__":
    main()
